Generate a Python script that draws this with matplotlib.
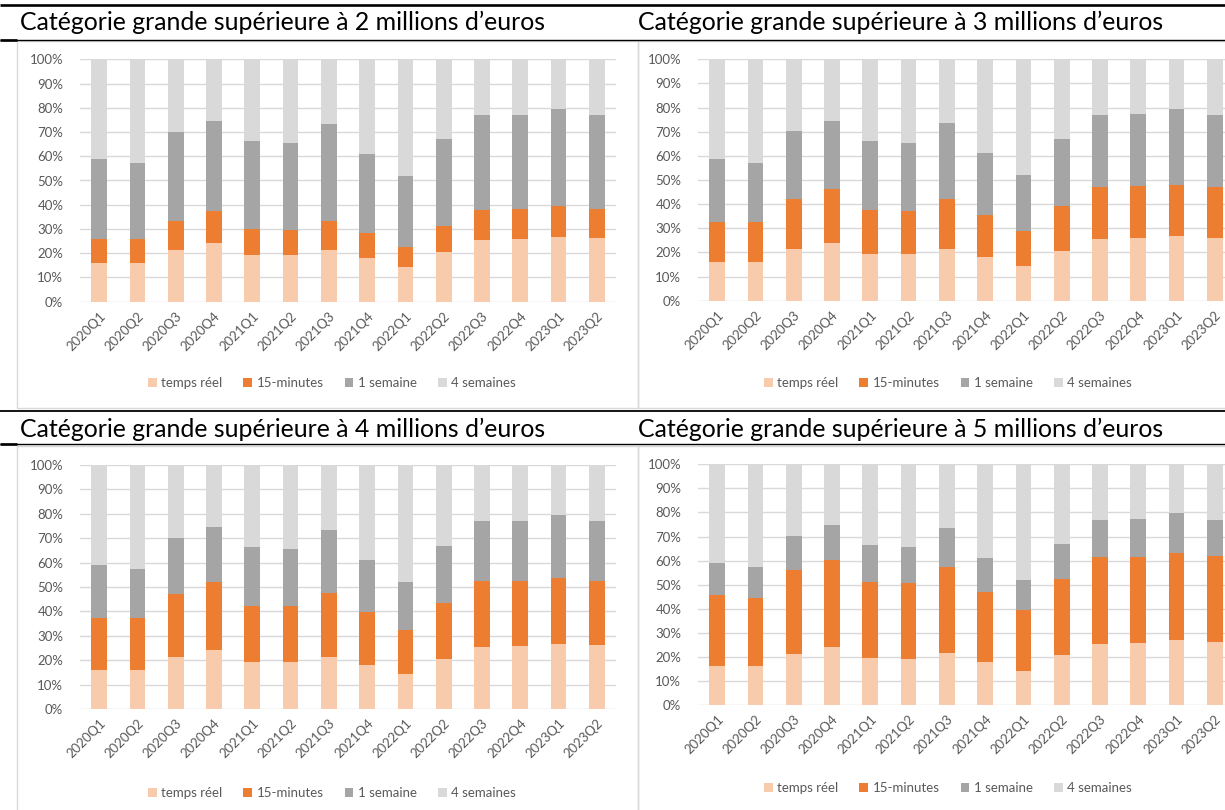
import matplotlib
matplotlib.use("Agg")
import matplotlib.pyplot as plt
from matplotlib.patches import Patch, Rectangle
from matplotlib.lines import Line2D
import numpy as np

# ---------------------------------------------------------------- data
quarters = ["2020Q1", "2020Q2", "2020Q3", "2020Q4",
            "2021Q1", "2021Q2", "2021Q3", "2021Q4",
            "2022Q1", "2022Q2", "2022Q3", "2022Q4",
            "2023Q1", "2023Q2"]

series_names = ["temps réel", "15-minutes", "1 semaine", "4 semaines"]
series_colors = ["#F8CBAD", "#ED7D31", "#A5A5A5", "#D9D9D9"]

# shares in % (same for every threshold)
temps_reel = [16.1, 16.1, 21.3, 24.1, 19.4, 19.3, 21.4, 17.9, 14.2, 20.6, 25.5, 25.8, 26.8, 26.1]
quatre_semaines = [41.1, 42.8, 29.8, 25.4, 33.7, 34.5, 26.5, 39.0, 48.1, 33.0, 23.1, 22.8, 20.4, 23.1]

# threshold 2 M EUR
quinze_minutes_2m = [9.7, 9.7, 12.1, 13.3, 10.5, 10.3, 12.0, 10.3, 8.2, 10.7, 12.4, 12.5, 12.7, 12.2]
une_semaine_2m = [33.1, 31.4, 36.8, 37.2, 36.4, 35.9, 40.1, 32.8, 29.5, 35.7, 39.0, 38.9, 40.1, 38.6]

# threshold 3 M EUR
quinze_minutes_3m = [16.7, 16.7, 20.8, 22.2, 18.1, 18.0, 20.7, 17.6, 14.5, 18.5, 21.7, 21.9, 21.2, 21.1]
une_semaine_3m = [26.1, 24.4, 28.1, 28.3, 28.8, 28.2, 31.4, 25.5, 23.2, 27.9, 29.7, 29.5, 31.6, 29.7]

# threshold 4 M EUR
quinze_minutes_4m = [21.0, 21.0, 25.8, 27.8, 22.8, 22.9, 26.2, 21.9, 18.1, 22.9, 26.9, 26.8, 26.9, 26.5]
une_semaine_4m = [21.8, 20.1, 23.1, 22.7, 24.1, 23.3, 25.9, 21.2, 19.6, 23.5, 24.5, 24.6, 25.9, 24.3]

# threshold 5 M EUR
quinze_minutes_5m = [29.6, 28.3, 34.9, 36.2, 31.6, 31.5, 35.9, 29.1, 25.4, 31.6, 36.1, 35.8, 36.5, 35.6]
une_semaine_5m = [13.2, 12.8, 14.0, 14.3, 15.3, 14.7, 16.2, 14.0, 12.3, 14.8, 15.3, 15.6, 16.3, 15.2]

titles = ["Catégorie grande supérieure à 2 millions d’euros",
          "Catégorie grande supérieure à 3 millions d’euros",
          "Catégorie grande supérieure à 4 millions d’euros",
          "Catégorie grande supérieure à 5 millions d’euros"]

y_ticks = [0, 10, 20, 30, 40, 50, 60, 70, 80, 90, 100]
y_tick_labels = [f"{v}%" for v in y_ticks]

# ---------------------------------------------------------------- layout
W, H = 1225, 810
plt.rcParams["font.family"] = ["Lato", "DejaVu Sans"]
fig = plt.figure(figsize=(W / 100, H / 100), dpi=100)
fig.patch.set_facecolor("white")


def rect(left, top, right, bottom):
    return [left / W, 1 - bottom / H, (right - left) / W, (bottom - top) / H]


def fy(y):
    return 1 - y / H


def hline(y, x0, x1, lw, color="black"):
    fig.add_artist(Line2D([x0 / W, x1 / W], [fy(y), fy(y)], transform=fig.transFigure,
                          color=color, lw=lw, solid_capstyle="butt"))


def box(left, top, right, bottom):
    fig.add_artist(Rectangle((left / W, fy(bottom)), (right - left) / W, (bottom - top) / H,
                             transform=fig.transFigure, fill=False,
                             edgecolor="#D9D9D9", lw=1.0))


# panel frames
box(17, 41, 638, 408)
box(638, 41, 1228, 408)
box(17, 446, 638, 812)
box(638, 446, 1228, 812)

# document rules
hline(5, 0, W, 1.9)
hline(39.5, 0, W, 1.0)
hline(39.5, 0, 17, 1.9)
hline(411, 0, W, 1.3)
hline(444.5, 0, W, 1.0)
hline(444.5, 0, 17, 1.9)

panels = [
    dict(title=titles[0], q15=quinze_minutes_2m, s1=une_semaine_2m,
         ax=(80, 59.3, 616, 301.7), tx=20, ty=22, leg=(332, 383)),
    dict(title=titles[1], q15=quinze_minutes_3m, s1=une_semaine_3m,
         ax=(698, 59.3, 1234, 300.7), tx=638, ty=22, leg=(948, 383)),
    dict(title=titles[2], q15=quinze_minutes_4m, s1=une_semaine_4m,
         ax=(80, 465, 616, 709), tx=20, ty=429, leg=(332, 793)),
    dict(title=titles[3], q15=quinze_minutes_5m, s1=une_semaine_5m,
         ax=(698, 464.3, 1234, 705), tx=638, ty=429, leg=(948, 788)),
]

x = np.arange(len(quarters))
text_grey = "#595959"

for p in panels:
    fig.text(p["tx"] / W, fy(p["ty"]), p["title"], fontsize=17.9, color="black",
             ha="left", va="center")

    ax = fig.add_axes(rect(*p["ax"]))
    ax.set_facecolor("none")
    stacks = [temps_reel, p["q15"], p["s1"], quatre_semaines]
    bottom = np.zeros(len(quarters))
    for vals, color, name in zip(stacks, series_colors, series_names):
        vals = np.asarray(vals)
        ax.bar(x, vals, width=0.41, bottom=bottom, color=color, label=name,
               linewidth=0, zorder=3)
        bottom = bottom + vals

    ax.set_xlim(-0.5, len(quarters) - 0.5)
    ax.set_ylim(0, 100)
    ax.set_yticks(y_ticks)
    ax.set_yticklabels(y_tick_labels)
    ax.set_xticks(x)
    ax.set_xticklabels(quarters, rotation=45, ha="right", rotation_mode="anchor")
    ax.tick_params(axis="y", length=0, pad=12, labelsize=9.5, labelcolor=text_grey)
    ax.tick_params(axis="x", length=0, pad=6, labelsize=9.5, labelcolor=text_grey)
    ax.yaxis.grid(True, color="#D9D9D9", lw=1.0, zorder=0)
    ax.set_axisbelow(True)
    for s in ax.spines.values():
        s.set_visible(False)

    handles = [Patch(facecolor=c, edgecolor="none", label=n)
               for c, n in zip(series_colors, series_names)]
    fig.legend(handles=handles, loc="center", ncol=4,
               bbox_to_anchor=(p["leg"][0] / W, fy(p["leg"][1])),
               frameon=False, fontsize=9.5, labelcolor=text_grey,
               handlelength=0.65, handleheight=0.65, handletextpad=0.35,
               columnspacing=1.6, borderaxespad=0)

fig.savefig("out.png", dpi=100, facecolor="white")
